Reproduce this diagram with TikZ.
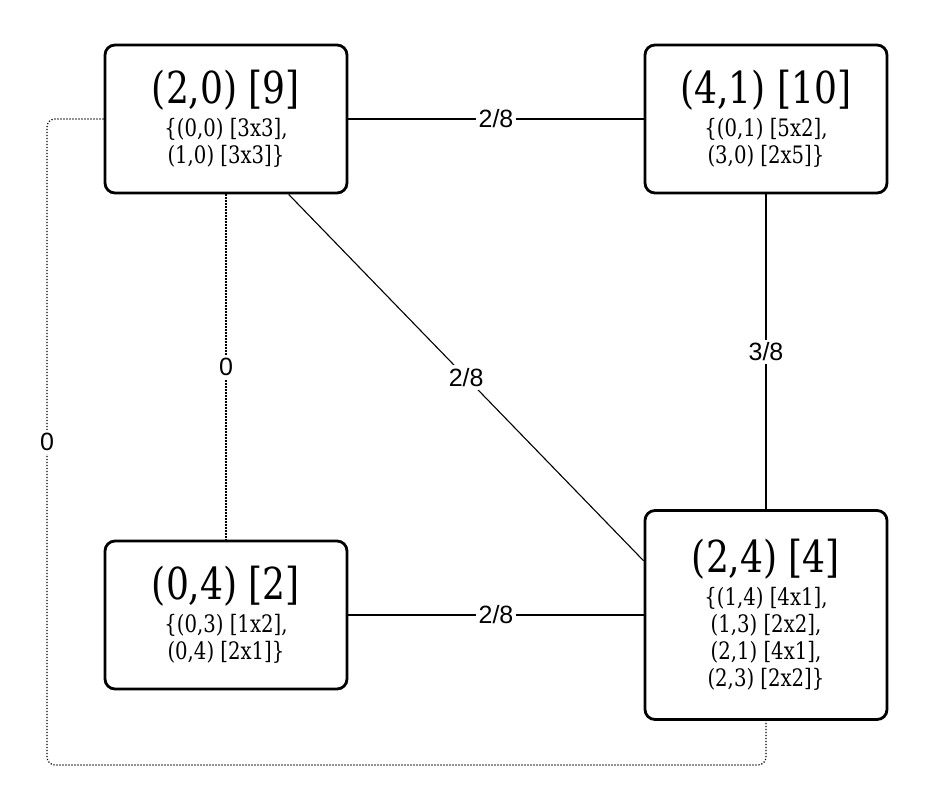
\documentclass[tikz,border=0pt]{standalone}
\usepackage{fontspec}
\setmainfont{DejaVu Serif}[FakeStretch=0.82]
\newfontfamily\labelfont{Liberation Sans}
\usetikzlibrary{calc}
\usetikzlibrary{positioning}

\newcommand{\celltitle}[1]{{\fontsize{22}{26}\selectfont #1}\\[3pt]}

\begin{document}
\begin{tikzpicture}[x=0.5pt,y=-0.5pt,
  cell/.style={draw,line width=1.4pt,rounded corners=5pt,align=center,
    minimum width=121pt,minimum height=74pt,inner sep=2pt,
    font=\fontsize{12}{12.5}\selectfont},
  link/.style={black,line width=0.55pt},
  zerolink/.style={black,line width=0.6pt,dash pattern=on 0.6pt off 0.9pt,rounded corners=4pt},
  weight/.style={fill=white,text=black,inner sep=1.5pt,font=\labelfont\fontsize{12.5}{14}\selectfont}]

\useasboundingbox (0,0) rectangle (930,810);

\node[cell] (A) at (226,119) {\celltitle{(2,0) [9]}\{(0,0) [3x3],\\[1pt] (1,0) [3x3]\}};
\node[cell] (B) at (766,119) {\celltitle{(4,1) [10]}\{(0,1) [5x2],\\[1pt] (3,0) [2x5]\}};
\node[cell] (C) at (226,615) {\celltitle{(0,4) [2]}\{(0,3) [1x2],\\[1pt] (0,4) [2x1]\}};
\node[cell,minimum height=104.5pt] (D) at (766,615) {\celltitle{(2,4) [4]}\{(1,4) [4x1],\\[1pt] (1,3) [2x2],\\[1pt] (2,1) [4x1],\\[1pt] (2,3) [2x2]\}};

\coordinate (Aout) at ($(A.south west)!0.756!(A.south east)$);
\coordinate (Din) at ($(D.south west)!0.756!(D.north west)$);
\coordinate (bend) at (47,765);

\draw[link] (A) -- (B) node[weight,midway] {2/8};
\draw[link] (B) -- (D) node[weight,midway] {3/8};
\draw[link] (C) -- (D) node[weight,midway] {2/8};
\draw[link] (Aout) -- (Din) node[weight,midway] {2/8};
\draw[zerolink] (A) -- (C) node[weight,midway] {0};
\draw[zerolink] (A.west) -| (bend) node[weight,pos=0.75] {0} -| (D.south);

\end{tikzpicture}
\end{document}
